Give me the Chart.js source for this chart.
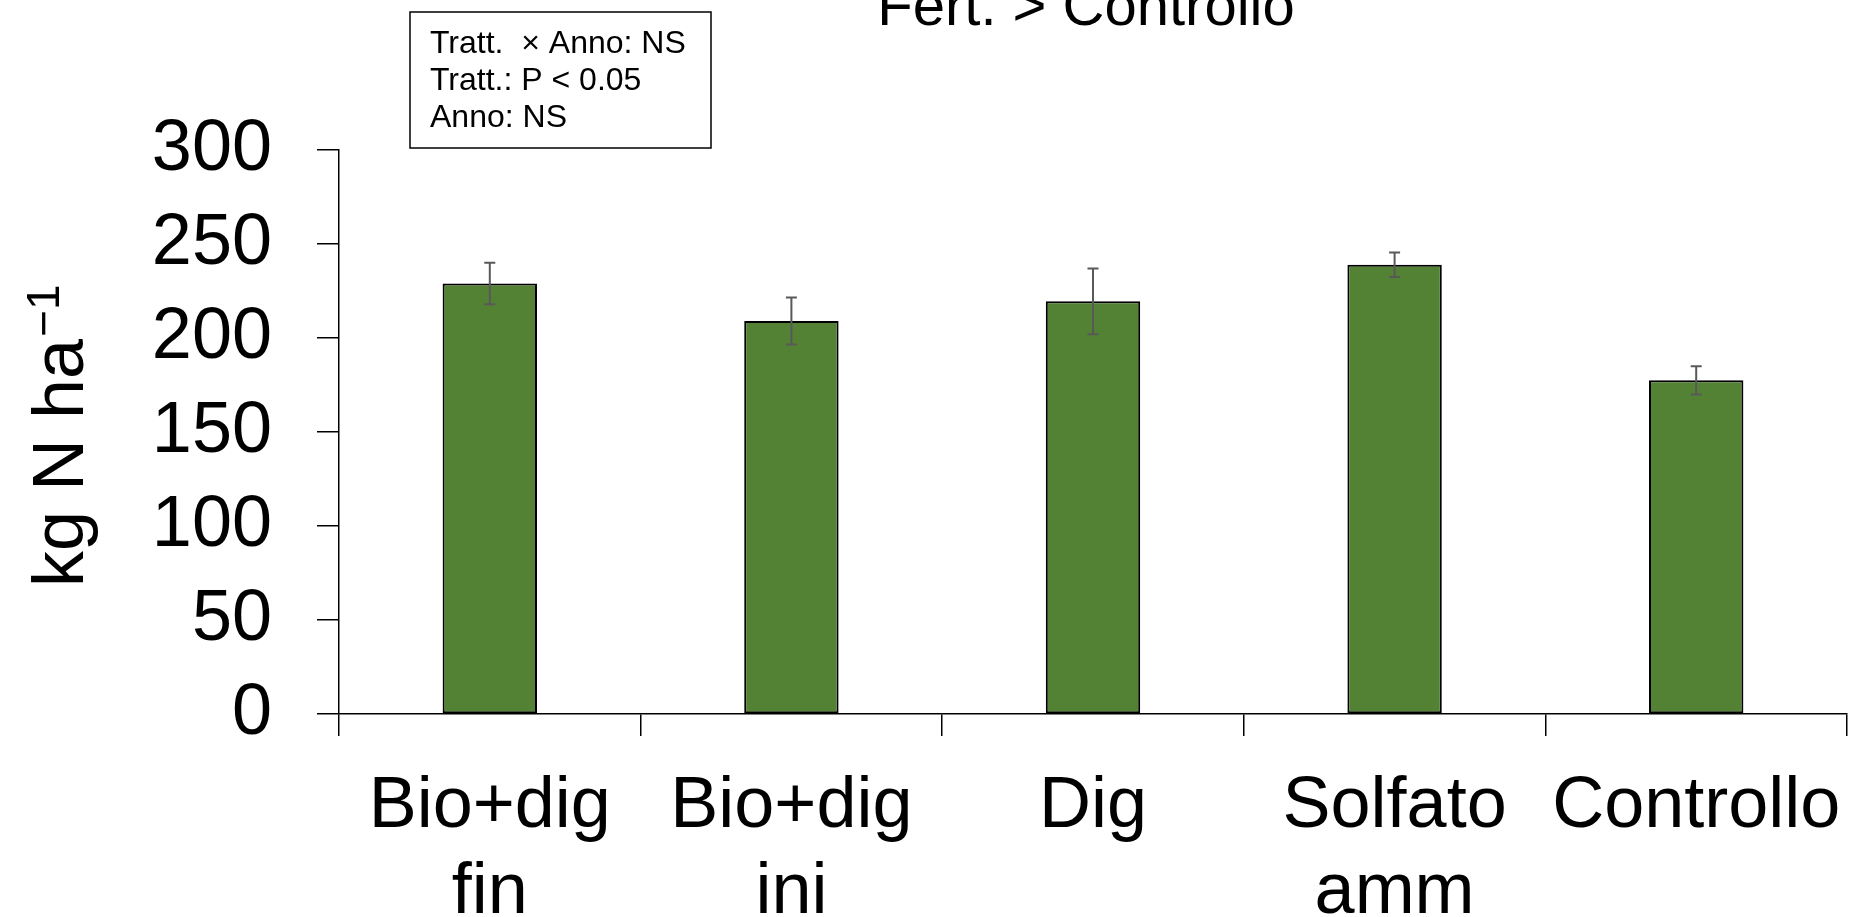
<!DOCTYPE html>
<html>
<head>
<meta charset="utf-8">
<script src="https://cdn.jsdelivr.net/npm/chart.js@4.4.1/dist/chart.umd.min.js"></script>
<style>
  html, body { margin: 0; padding: 0; background: #fff; }
  #wrap { width: 1851px; height: 917px; position: relative; }
</style>
</head>
<body>
<div id="wrap"><canvas id="nChart"></canvas></div>
<script>
// data
var categories = [['Bio+dig', 'fin'], ['Bio+dig', 'ini'], 'Dig', ['Solfato', 'amm'], 'Controllo'];
var nValues = [229, 209, 219.5, 239, 177.5];
var nErrors = [11, 12.5, 17.5, 6.5, 7.5];
var yTicks = [0, 50, 100, 150, 200, 250, 300];
var statsLines = ['Tratt.  \u00d7 Anno: NS', 'Tratt.: P < 0.05', 'Anno: NS'];
var chartTitle = 'Fert. > Controllo';

var FONT = '"Liberation Sans", Arial, sans-serif';

// error bars on top of each bar
var errorBars = {
    id: 'errorBars',
    afterDatasetsDraw: function(chart) {
        var ctx = chart.ctx;
        var y = chart.scales.y;
        var meta = chart.getDatasetMeta(0);
        ctx.save();
        ctx.strokeStyle = '#595959';
        ctx.lineWidth = 2;
        meta.data.forEach(function(bar, i) {
            var top = y.getPixelForValue(nValues[i] + nErrors[i]);
            var bot = y.getPixelForValue(nValues[i] - nErrors[i]);
            ctx.beginPath();
            ctx.moveTo(bar.x, top); ctx.lineTo(bar.x, bot);
            ctx.moveTo(bar.x - 5.5, top); ctx.lineTo(bar.x + 5.5, top);
            ctx.moveTo(bar.x - 5.5, bot); ctx.lineTo(bar.x + 5.5, bot);
            ctx.stroke();
        });
        ctx.restore();
    }
};

// y title with superscript, stats box, and the clipped title
var extras = {
    id: 'extras',
    afterDraw: function(chart) {
        var ctx = chart.ctx;
        var area = chart.chartArea;
        ctx.save();
        ctx.fillStyle = '#000';
        ctx.textBaseline = 'alphabetic';

        // y axis title
        ctx.save();
        ctx.translate(83, 587);
        ctx.rotate(-Math.PI / 2);
        ctx.font = '72px ' + FONT;
        ctx.textAlign = 'left';
        ctx.fillText('kg N ha', 0, 0);
        var w = ctx.measureText('kg N ha').width;
        ctx.font = '46px ' + FONT;
        ctx.fillText('\u22121', w + 2, -24);
        ctx.restore();

        // stats box
        ctx.strokeStyle = '#000';
        ctx.lineWidth = 1.5;
        ctx.strokeRect(410, 12, 301, 136);
        ctx.font = '32px ' + FONT;
        ctx.textAlign = 'left';
        statsLines.forEach(function(t, i) {
            ctx.fillText(t, 430, 53 + i * 37);
        });

        // title, mostly cut off at the top
        ctx.font = '58px ' + FONT;
        ctx.textAlign = 'center';
        ctx.fillText(chartTitle, (area.left + area.right) / 2 - 7, 25);
        ctx.restore();
    }
};

document.addEventListener('DOMContentLoaded', function() {
    var ctx = document.getElementById('nChart').getContext('2d');
    new Chart(ctx, {
        type: 'bar',
        data: {
            labels: categories,
            datasets: [{
                data: nValues,
                backgroundColor: '#548235',
                borderColor: '#000000',
                borderWidth: 2,
                borderSkipped: false,
                barPercentage: 0.313,
                categoryPercentage: 1
            }]
        },
        options: {
            responsive: true,
            maintainAspectRatio: false,
            animation: false,
            layout: { padding: { top: 150, right: 4, left: 0, bottom: 0 } },
            plugins: {
                legend: { display: false },
                tooltip: { enabled: false },
                title: { display: false }
            },
            scales: {
                x: {
                    offset: true,
                    grid: {
                        offset: true,
                        drawOnChartArea: false,
                        drawTicks: true,
                        tickLength: 22,
                        color: '#000',
                        lineWidth: 1.5
                    },
                    border: { display: true, color: '#000', width: 1.5 },
                    ticks: {
                        color: '#000',
                        font: { family: FONT, size: 72 },
                        padding: 28,
                        maxRotation: 0,
                        autoSkip: false
                    },
                    afterFit: function(s) {
                        s.height = 203;
                        s.paddingLeft = 0;
                        s.paddingRight = 0;
                    }
                },
                y: {
                    min: 0,
                    max: 300,
                    afterBuildTicks: function(s) {
                        s.ticks = yTicks.map(function(v) { return { value: v }; });
                    },
                    grid: {
                        drawOnChartArea: false,
                        drawTicks: true,
                        tickLength: 22,
                        color: '#000',
                        lineWidth: 1.5
                    },
                    border: { display: true, color: '#000', width: 1.5 },
                    ticks: {
                        color: '#000',
                        font: { family: FONT, size: 72 },
                        padding: 45
                    },
                    afterFit: function(s) {
                        s.width = 339;
                        s.paddingTop = 0;
                        s.paddingBottom = 0;
                    }
                }
            }
        },
        plugins: [errorBars, extras]
    });
});
</script>
</body>
</html>
